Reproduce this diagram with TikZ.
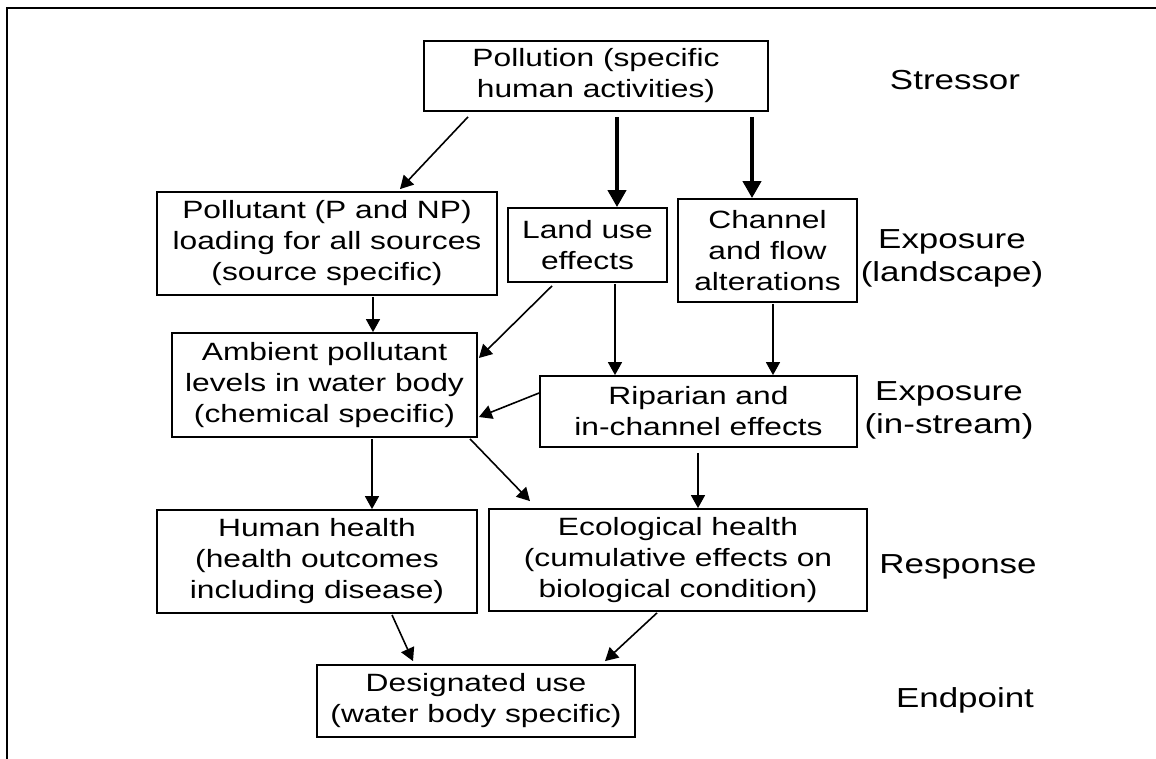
\documentclass[tikz,border=0pt]{standalone}
\usepackage{fontspec}
\newfontfamily\figfont[FakeStretch=1.27]{Liberation Sans}
\usetikzlibrary{arrows.meta,positioning,calc}
\tikzset{x=1pt, y=-1pt, % one unit is one pixel of the scan, y runs down
        box/.style={ % Sets the properties for each box
            draw, line width=1.8pt,
            inner sep=0pt, align=center,
            font=\figfont\fontsize{25}{31}\selectfont},
        level/.style={ % Labels of the levels on the right
            align=center,
            font=\figfont\fontsize{27.5}{33}\selectfont},
        link/.style={ % Thin arrows
            draw, line width=1.6pt,
            -{Triangle[length=13pt,width=14pt]}},
        mainlink/.style={ % Thick arrows out of the top box
            draw, line width=4pt,
            -{Triangle[length=17pt,width=18pt]}}
        }

\begin{document}
\begin{tikzpicture}
    \useasboundingbox (0,0) rectangle (1156,759);
    \draw[line width=2pt] (1156,8) -- (7,8) -- (7,759);

    % boxes
    \node[box, minimum width=344pt, minimum height=70pt] (pol) at (596,76) {Pollution (specific\\human activities)};
    \node[box, minimum width=340pt, minimum height=103pt] (load) at (327,243.5) {Pollutant (P and NP)\\loading for all sources\\(source specific)};
    \node[box, minimum width=159pt, minimum height=74pt] (land) at (587.5,245) {Land use\\effects};
    \node[box, minimum width=179pt, minimum height=103pt] (chan) at (767.5,250.5) {Channel\\and flow\\alterations};
    \node[box, minimum width=305pt, minimum height=104pt] (amb) at (324.5,385) {Ambient pollutant\\levels in water body\\(chemical specific)};
    \node[box, minimum width=317pt, minimum height=71pt] (rip) at (698.5,411.5) {Riparian and\\in-channel effects};
    \node[box, minimum width=320pt, minimum height=103pt] (hum) at (317,561.5) {Human health\\(health outcomes\\including disease)};
    \node[box, minimum width=378pt, minimum height=102pt] (eco) at (678,560) {Ecological health\\(cumulative effects on\\biological condition)};
    \node[box, minimum width=318pt, minimum height=72pt] (use) at (476,701) {Designated use\\(water body specific)};

    % levels
    \node[level] (stress) at (955,80) {Stressor};
    \node[level] (explnd) at (952,258) {Exposure\\(landscape)};
    \node[level] (expstr) at (949,410) {Exposure\\(in-stream)};
    \node[level] (resp) at (958,567) {Response};
    \node[level] (endp) at (965,700) {Endpoint};

    % arrows
    \draw[link] ($(pol.south)+(-128,5)$) -- ($(load.north)+(73,-2)$);
    \draw[mainlink] ($(pol.south)+(21,5)$) -- ($(land.north)+(29.5,0)$);
    \draw[mainlink] ($(pol.south)+(156,5)$) -- ($(chan.north)+(-15.5,0)$);
    \draw[link] ($(load.south)+(46,1)$) -- ($(amb.north)+(48.5,0)$);
    \draw[link] ($(land.south)+(-35.5,3)$) -- ($(amb.east)+(1,-27)$);
    \draw[link] ($(land.south)+(27.5,1)$) -- ($(rip.north)+(-83.5,0)$);
    \draw[link] ($(chan.south)+(5.5,1)$) -- ($(rip.north)+(74.5,0)$);
    \draw[link] ($(rip.west)+(0,-18.5)$) -- ($(amb.east)+(1,32)$);
    \draw[link] ($(amb.south)+(47.5,1)$) -- ($(hum.north)+(55,0)$);
    \draw[link] ($(amb.south)+(145.5,1)$) -- ($(eco.north)+(-148,-7)$);
    \draw[link] ($(rip.south)+(-0.5,5)$) -- ($(eco.north)+(20,0)$);
    \draw[link] ($(hum.south)+(75,1)$) -- ($(use.north)+(-63,-3)$);
    \draw[link] ($(eco.south)+(-21,1)$) -- ($(use.north)+(129,-3)$);
\end{tikzpicture}
\end{document}
